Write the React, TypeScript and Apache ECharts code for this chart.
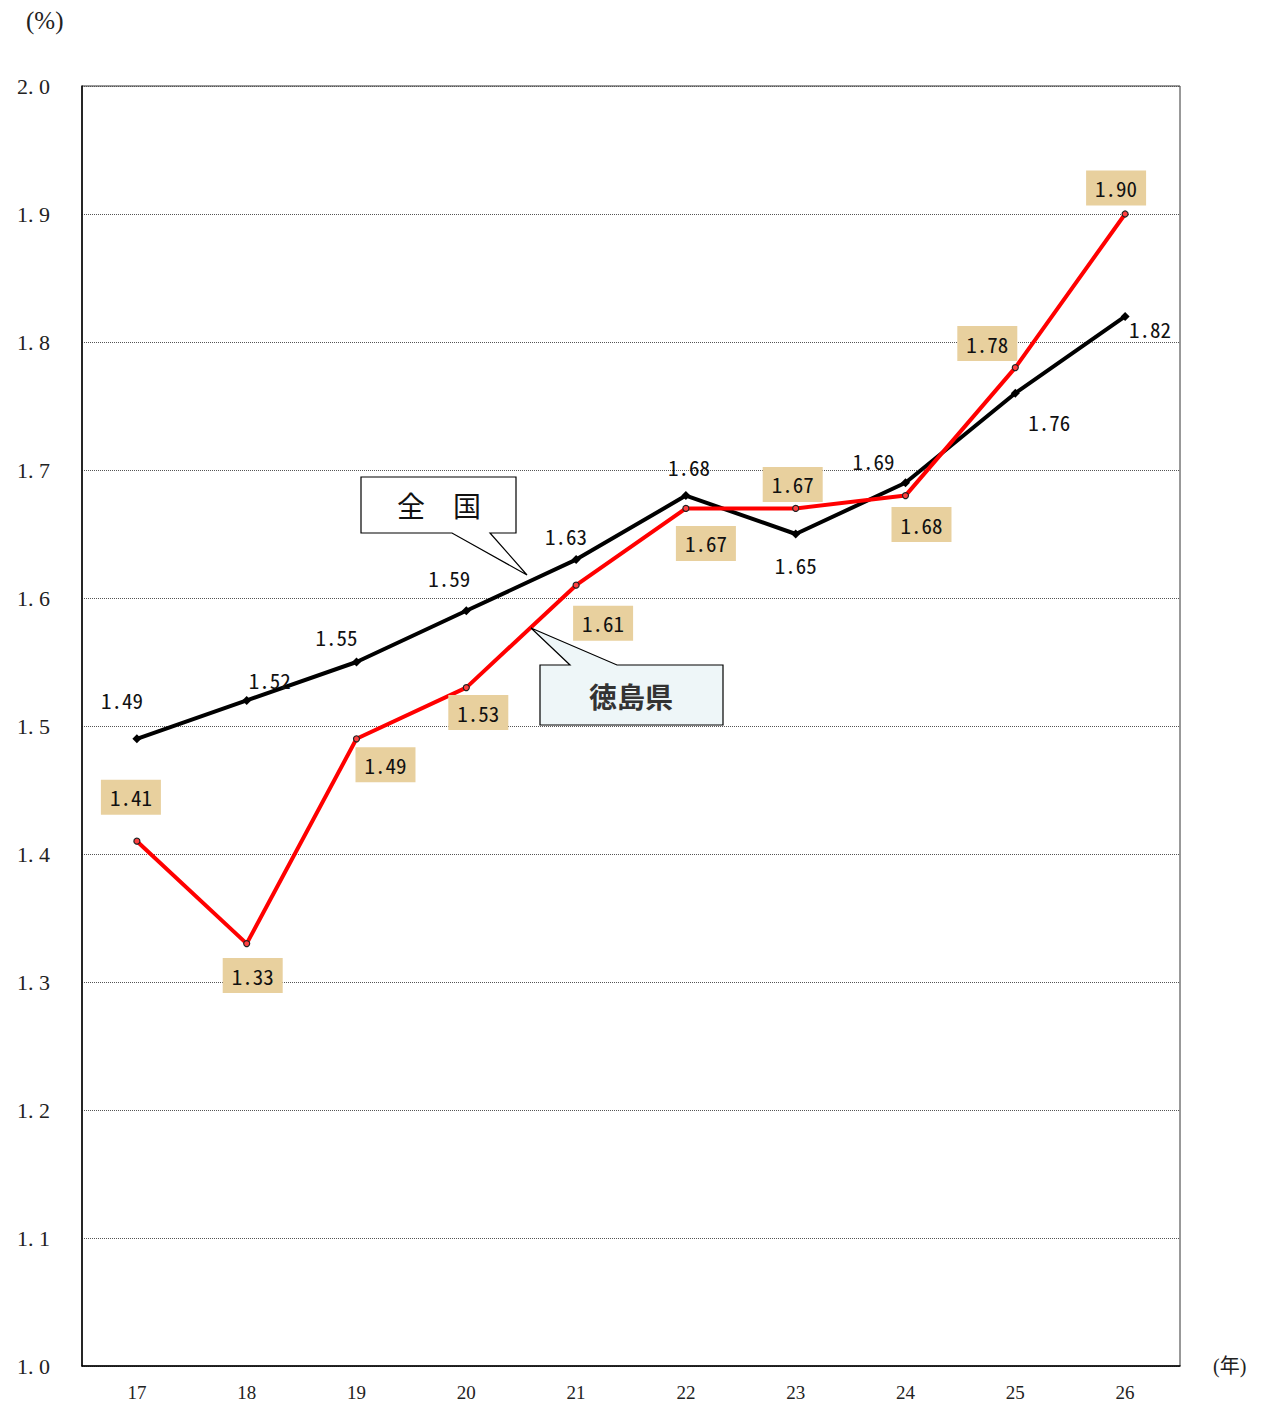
import React, { useEffect, useRef } from "react";
import * as echarts from "echarts";

const years = ["17", "18", "19", "20", "21", "22", "23", "24", "25", "26"];
const national = [1.49, 1.52, 1.55, 1.59, 1.63, 1.68, 1.65, 1.69, 1.76, 1.82];
const tokushima = [1.41, 1.33, 1.49, 1.53, 1.61, 1.67, 1.67, 1.68, 1.78, 1.9];
const yTicks = [1.0, 1.1, 1.2, 1.3, 1.4, 1.5, 1.6, 1.7, 1.8, 1.9, 2.0];

// label offsets (layout only)
const nationalOffsets = [[-15, -39], [23, -20], [-20, -25], [-17, -33], [-10, -24], [3, -29], [0, 31], [-32, -22], [34, 29], [25, 13]];
const tokushimaOffsets = [[-6, -44], [6, 32], [29, 26], [12, 25], [27, 38], [20, 35], [-3, -24], [16, 29], [-28, -24], [-9, -26]];

const labelFont = "'Noto Sans Mono CJK JP', 'DejaVu Sans Mono', monospace";
const serifFont = "'Liberation Serif', 'Noto Sans CJK JP', serif";

export default function App() {
  const ref = useRef<HTMLDivElement>(null);
  useEffect(() => {
    if (!ref.current) return;
    const chart = echarts.init(ref.current, null, { renderer: "svg" });
    const fmt = (v: number) => v.toFixed(2);
    chart.setOption({
      animation: false,
      backgroundColor: "#ffffff",
      grid: { left: 82, right: 82, top: 86, bottom: 38, show: true, borderColor: "#333", borderWidth: 1 },
      xAxis: {
        type: "category",
        data: years,
        boundaryGap: true,
        axisLine: { show: true, lineStyle: { color: "#000", width: 1.5 } },
        axisTick: { show: false },
        axisLabel: { color: "#222", fontFamily: serifFont, fontSize: 19, margin: 17 },
        name: "(年)",
        nameLocation: "end",
        nameGap: 33,
        nameTextStyle: { color: "#222", fontFamily: serifFont, fontSize: 20, verticalAlign: "middle", padding: [6, 0, 0, 0] },
      },
      yAxis: {
        type: "value",
        min: 1.0,
        max: 2.0,
        interval: 0.1,
        axisLine: { show: true, lineStyle: { color: "#000", width: 1.5 } },
        axisTick: { show: false },
        splitLine: { show: true, lineStyle: { color: "#555", type: "dotted", width: 1 } },
        axisLabel: {
          color: "#222",
          fontFamily: serifFont,
          fontSize: 22,
          margin: 32,
          formatter: (v: number) => {
            const s = yTicks.find((t) => Math.abs(t - v) < 1e-6);
            return (s !== undefined ? s : v).toFixed(1).replace(".", ".\u00a0");
          },
        },
      },
      series: [
        {
          name: "全国",
          type: "line",
          data: national.map((v, i) => ({
            value: v,
            label: { offset: nationalOffsets[i] },
          })),
          symbol: "diamond",
          symbolSize: 9,
          itemStyle: { color: "#000" },
          lineStyle: { color: "#000", width: 4 },
          z: 2,
          label: {
            show: true,
            position: "inside",
            align: "center",
            verticalAlign: "middle",
            formatter: (p: any) => fmt(p.value),
            fontFamily: labelFont,
            fontSize: 21,
            color: "#111",
          },
        },
        {
          name: "徳島県",
          type: "line",
          data: tokushima.map((v, i) => ({
            value: v,
            label: { offset: tokushimaOffsets[i] },
          })),
          symbol: "circle",
          symbolSize: 6,
          itemStyle: { color: "#ff4040", borderColor: "#222", borderWidth: 1.2 },
          lineStyle: { color: "#ff0000", width: 4 },
          z: 3,
          label: {
            show: true,
            position: "inside",
            align: "center",
            verticalAlign: "middle",
            formatter: (p: any) => fmt(p.value),
            fontFamily: labelFont,
            fontSize: 21,
            color: "#111",
            backgroundColor: "#e8d09e",
            padding: [8, 9, 6, 9],
          },
        },
      ],
      graphic: [
        {
          type: "text",
          left: 26,
          top: 8,
          style: { text: "(%)", fontFamily: serifFont, fontSize: 25, fill: "#222" },
        },
        {
          type: "polygon",
          z: 10,
          shape: {
            points: [
              [361, 477], [516, 477], [516, 533], [490, 533], [527, 575], [452, 533], [361, 533],
            ],
          },
          style: { fill: "#ffffff", stroke: "#000", lineWidth: 1.2 },
        },
        {
          type: "text",
          z: 11,
          x: 439,
          y: 505,
          style: {
            text: "全　国",
            fontFamily: "'Noto Sans CJK JP'",
            fontSize: 28,
            fontWeight: "normal",
            fill: "#111",
            align: "center",
            verticalAlign: "middle",
          },
        },
        {
          type: "polygon",
          z: 10,
          shape: {
            points: [
              [540, 665], [570, 665], [531, 628], [617, 665], [723, 665], [723, 725], [540, 725],
            ],
          },
          style: { fill: "#eef6f8", stroke: "#000", lineWidth: 1.2 },
        },
        {
          type: "text",
          z: 11,
          x: 631,
          y: 696,
          style: {
            text: "徳島県",
            fontFamily: "'Noto Sans CJK JP'",
            fontSize: 28,
            fontWeight: "bold",
            fill: "#333",
            align: "center",
            verticalAlign: "middle",
          },
        },
      ],
    });
    return () => chart.dispose();
  }, []);
  return <div ref={ref} style={{ width: 1262, height: 1404, position: "absolute", left: 0, top: 0 }} />;
}
